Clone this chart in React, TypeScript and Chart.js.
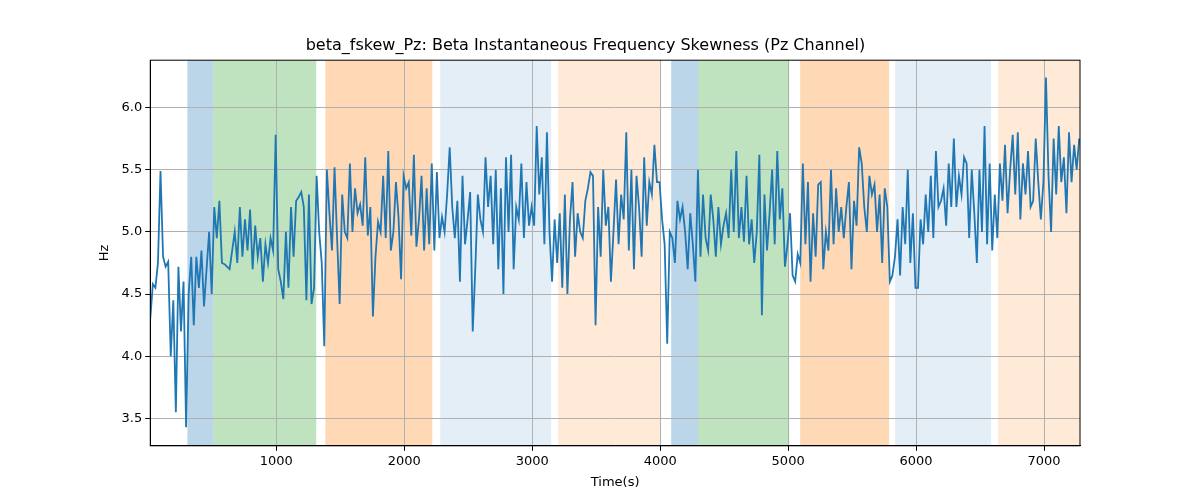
import React, { useEffect, useRef } from "react";
import { Chart, registerables } from "chart.js";
Chart.register(...registerables);

const START = 15;
const STEP = 20;
const values: number[] = [
4.3,4.58,4.55,4.75,5.49,4.8,4.72,4.76,4.0,4.45,3.55,4.72,4.2,4.6,3.43,4.5,4.8,4.25,4.8,4.55,4.85,4.4,4.7,5.0,4.5,
5.2,4.95,5.25,4.75,4.74,4.72,4.7,4.85,5.0,4.75,5.2,4.8,5.1,4.85,5.18,4.7,5.05,4.8,4.95,4.6,4.9,4.75,4.95,4.85,5.78,
4.7,4.6,4.46,5.0,4.55,5.2,4.8,5.25,5.28,5.32,5.2,4.45,5.3,4.42,4.55,5.45,5.0,4.75,4.08,5.5,5.15,4.85,5.52,4.95,4.42,
5.3,5.0,4.95,5.55,5.0,5.35,5.15,5.22,5.05,5.6,4.97,5.2,4.32,4.8,5.08,5.0,5.45,4.95,5.65,4.85,5.0,5.4,5.12,4.62,5.45,
5.35,5.4,4.97,5.62,4.88,5.1,5.45,4.85,5.35,4.9,5.55,4.85,5.48,4.95,5.12,5.0,5.3,5.68,5.2,4.95,5.25,4.6,5.45,4.9,5.1,
5.32,4.2,4.7,5.3,5.1,5.0,5.6,5.2,5.45,4.9,5.5,4.7,5.35,4.5,5.6,5.0,5.62,4.7,5.2,5.1,5.55,4.95,5.4,5.05,5.2,
5.05,5.85,5.3,5.6,4.9,5.8,5.0,4.6,5.1,4.75,5.15,4.55,5.3,4.5,5.1,5.4,4.8,5.15,5.0,4.95,5.25,5.35,5.48,5.45,4.25,
5.2,4.8,5.5,5.05,5.2,4.6,5.0,5.42,4.9,5.3,5.1,5.8,4.85,5.5,4.7,5.45,5.2,4.8,5.6,5.05,5.4,5.3,5.7,5.4,5.4,
5.1,4.9,4.1,5.0,4.95,4.75,5.25,5.1,5.2,5.0,4.7,5.15,4.9,4.6,5.5,4.8,5.3,4.95,4.85,5.3,5.1,4.8,5.2,4.9,5.05,
5.15,4.95,5.5,5.0,5.65,4.95,5.2,4.92,5.45,4.9,5.1,4.75,5.0,5.62,4.33,5.3,4.85,5.15,5.5,4.9,5.65,5.1,5.35,4.72,4.9,
5.15,4.65,4.6,4.82,4.75,5.55,4.9,5.4,4.6,5.15,4.8,5.38,5.4,4.7,5.0,4.85,5.5,4.9,5.35,5.0,5.2,4.95,5.2,5.4,4.7,
5.25,5.05,5.68,5.55,5.2,5.0,5.45,5.3,5.38,5.0,5.3,4.75,5.35,5.2,4.6,4.65,4.8,5.1,4.65,5.2,4.9,5.5,4.75,5.15,4.55,
4.55,5.1,4.9,5.3,5.0,5.45,4.95,5.65,5.2,5.25,5.35,5.05,5.55,5.2,5.75,5.2,5.45,5.3,5.6,5.55,4.95,5.5,5.15,4.75,5.5,
5.0,5.85,4.9,5.55,4.85,5.3,4.95,5.55,5.25,5.7,5.15,5.5,5.78,5.3,5.8,5.1,5.55,5.3,5.65,5.2,5.25,5.75,5.4,5.1,5.4,
6.24,5.45,5.0,5.75,5.3,5.85,5.4,5.6,5.15,5.8,5.4,5.7,5.5,5.75
];
const bandStarts = [305, 508, 1383, 2281, 3203, 4086, 4297, 5094, 5836, 6640];
const bandEnds = [508, 1312, 2219, 3148, 4000, 4297, 5008, 5789, 6586, 7281];
const bandColors = [
  "rgba(31,119,180,0.3)", "rgba(44,160,44,0.3)", "rgba(255,127,14,0.3)",
  "rgba(31,119,180,0.12)", "rgba(255,127,14,0.16)",
  "rgba(31,119,180,0.3)", "rgba(44,160,44,0.3)", "rgba(255,127,14,0.3)",
  "rgba(31,119,180,0.12)", "rgba(255,127,14,0.16)",
];
const xTicks = [1000, 2000, 3000, 4000, 5000, 6000, 7000];
const yTicks = [3.5, 4.0, 4.5, 5.0, 5.5, 6.0];

export default function App() {
  const ref = useRef<HTMLCanvasElement>(null);
  useEffect(() => {
    document.body.style.margin = "0";
    const pts = values.map((v, i) => ({ x: START + i * STEP, y: v }));
    const bands = {
      id: "bands",
      beforeDraw(c: any) {
        const { ctx, chartArea: a, scales } = c;
        ctx.save();
        bandStarts.forEach((s, i) => {
          const x1 = Math.max(scales.x.getPixelForValue(s), a.left);
          const x2 = Math.min(scales.x.getPixelForValue(bandEnds[i]), a.right);
          ctx.fillStyle = bandColors[i];
          ctx.fillRect(x1, a.top, x2 - x1, a.bottom - a.top);
        });
        ctx.restore();
      },
      afterDraw(c: any) {
        const { ctx, chartArea: a } = c;
        ctx.save();
        ctx.strokeStyle = "#000";
        ctx.lineWidth = 1;
        ctx.strokeRect(a.left, a.top, a.right - a.left, a.bottom - a.top);
        ctx.restore();
      },
    };
    const font = { family: "DejaVu Sans", size: 13 };
    const chart = new Chart(ref.current!, {
      type: "line",
      data: { datasets: [{ data: pts, borderColor: "#1f77b4", borderWidth: 1.8, pointRadius: 0, tension: 0 }] },
      options: {
        animation: false,
        responsive: false,
        layout: { padding: { left: 91, right: 120, top: 10, bottom: 8 } },
        plugins: {
          legend: { display: false },
          tooltip: { enabled: false },
          title: { display: true, text: "beta_fskew_Pz: Beta Instantaneous Frequency Skewness (Pz Channel)", color: "#000", font: { family: "DejaVu Sans", size: 16, weight: "normal" }, padding: { top: 26, bottom: 5 } },
        },
        scales: {
          x: {
            type: "linear", min: 15, max: 7281,
            afterBuildTicks: (s: any) => { s.ticks = xTicks.map((v) => ({ value: v })); },
            ticks: { color: "#000", font, maxRotation: 0, callback: (v: any) => String(v) },
            grid: { color: "#b0b0b0", tickColor: "#000", tickLength: 5 },
            border: { color: "#000" },
            title: { display: true, text: "Time(s)", color: "#000", font, padding: 2 },
          },
          y: {
            min: 3.28, max: 6.38,
            afterBuildTicks: (s: any) => { s.ticks = yTicks.map((v) => ({ value: v })); },
            ticks: { color: "#000", font, callback: (v: any) => Number(v).toFixed(1) },
            grid: { color: "#b0b0b0", tickColor: "#000", tickLength: 5 },
            border: { color: "#000" },
            title: { display: true, text: "Hz", color: "#000", font, padding: 6 },
          },
        },
      },
      plugins: [bands],
    } as any);
    return () => chart.destroy();
  }, []);
  return <canvas ref={ref} width={1200} height={500} style={{ display: "block" }} />;
}
